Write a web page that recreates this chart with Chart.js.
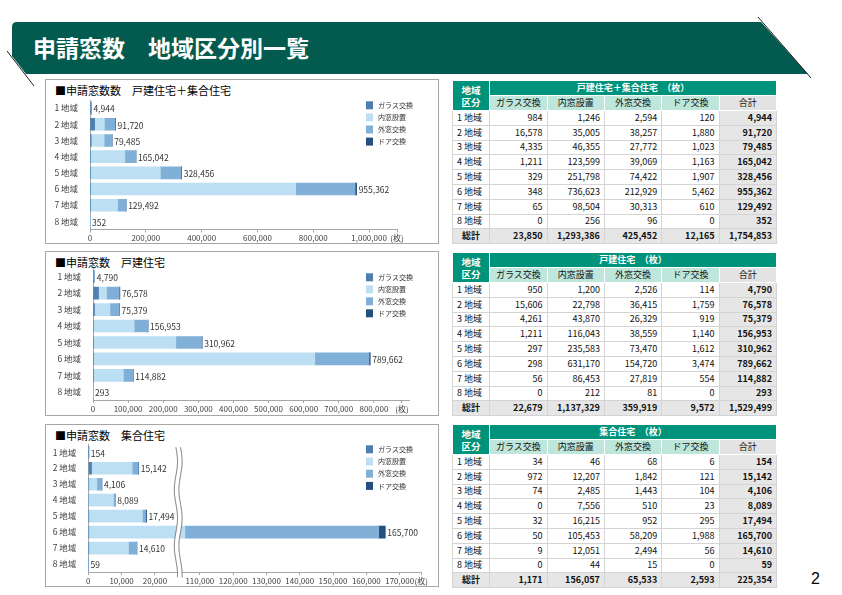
<!DOCTYPE html>
<html lang="ja">
<head>
<meta charset="utf-8">
<title>申請窓数 地域区分別一覧</title>
<script src="https://cdn.jsdelivr.net/npm/chart.js@4.4.1/dist/chart.umd.min.js"></script>
<style>
  body { margin: 0; width: 842px; height: 595px; position: relative; overflow: hidden; background: #fff; font-family: 'Noto Sans CJK JP', sans-serif; }
  .page-title { position: absolute; left: 33px; top: 33px; color: #fff; font-size: 23px; font-weight: bold; line-height: 28px; white-space: nowrap; }
  .box { position: absolute; left: 45px; width: 392px; border: 1px solid #a6a6a6; }
  .ctitle { position: absolute; left: 9px; top: 3px; font-size: 11px; line-height: 14px; color: #000; white-space: nowrap; }
  .cwrap { position: absolute; left: 0; top: 0; width: 392px; }
  .page-no { position: absolute; left: 811px; top: 571px; font-family: 'Liberation Sans', sans-serif; font-size: 16px; line-height: 16px; color: #000; }

  table.tbl { position: absolute; left: 452px; width: 325px; border-collapse: collapse; table-layout: fixed; border: 1.5px solid #333; font-size: 9px; color: #111; }
  table.tbl td, table.tbl th { border: 1px solid #d4d4d4; padding: 0 4px; white-space: nowrap; overflow: hidden; line-height: 10px; font-weight: normal; }
  table.tbl tr.h1, table.tbl tr.h2 { height: 15px; }
  table.tbl tr.row { height: 14.8px; }
  table.tbl th.hd { background: #00937c; color: #fff; font-weight: bold; border-color: #fff; text-align: center; }
  table.tbl th.corner { font-size: 9.5px; line-height: 12px; }
  table.tbl th.sub { background: #bfe6da; border-color: #fff; text-align: center; }
  table.tbl th.subsum { background: #e3e3e3; border-color: #fff; text-align: center; }
  table.tbl td.lab { text-align: left; }
  table.tbl td.num { text-align: right; }
  table.tbl td.sum { background: #e6e6e6; font-weight: bold; text-align: right; }
  table.tbl tr.total td { background: #e6e6e6; font-weight: bold; }
</style>
</head>
<body>

<svg style="position:absolute;left:0;top:0" width="842" height="100">
  <path d="M12,56 L12,27 Q12,22 17,22 L761,22 L808,74 L26,74 Z" fill="#035a4e"/>
  <line x1="7" y1="51" x2="34" y2="86" stroke="#222" stroke-width="1"/>
  <line x1="758" y1="17" x2="811" y2="78" stroke="#222" stroke-width="1"/>
</svg>
<div class="page-title">申請窓数　地域区分別一覧</div>

<div class="box" style="top:79px;height:163px">
  <div class="ctitle">■申請窓数数　戸建住宅＋集合住宅</div>
  <div class="cwrap" style="height:163px"><canvas id="chartAll"></canvas></div>
</div>
<div class="box" style="top:251px;height:163px">
  <div class="ctitle">■申請窓数　戸建住宅</div>
  <div class="cwrap" style="height:163px"><canvas id="chartHouse"></canvas></div>
</div>
<div class="box" style="top:424px;height:161px">
  <div class="ctitle">■申請窓数　集合住宅</div>
  <div class="cwrap" style="height:161px"><canvas id="chartApt"></canvas></div>
</div>

<table class="tbl" id="tblAll" style="top:80px"></table>
<table class="tbl" id="tblHouse" style="top:252px"></table>
<table class="tbl" id="tblApt" style="top:424px"></table>

<div class="page-no">2</div>

<script>
// Categories and series
const regions = ['1 地域', '2 地域', '3 地域', '4 地域', '5 地域', '6 地域', '7 地域', '8 地域'];
const seriesNames = ['ガラス交換', '内窓設置', '外窓交換', 'ドア交換'];
const seriesColors = ['#4f7fb1', '#bddff3', '#80afd8', '#24507f'];

// 戸建住宅＋集合住宅
const glassAll = [984, 16578, 4335, 1211, 329, 348, 65, 0];
const innerAll = [1246, 35005, 46355, 123599, 251798, 736623, 98504, 256];
const outerAll = [2594, 38257, 27772, 39069, 74422, 212929, 30313, 96];
const doorAll = [120, 1880, 1023, 1163, 1907, 5462, 610, 0];

// 戸建住宅
const glassHouse = [950, 15606, 4261, 1211, 297, 298, 56, 0];
const innerHouse = [1200, 22798, 43870, 116043, 235583, 631170, 86453, 212];
const outerHouse = [2526, 36415, 26329, 38559, 73470, 154720, 27819, 81];
const doorHouse = [114, 1759, 919, 1140, 1612, 3474, 554, 0];

// 集合住宅
const glassApt = [34, 972, 74, 0, 32, 50, 9, 0];
const innerApt = [46, 12207, 2485, 7556, 16215, 105453, 12051, 44];
const outerApt = [68, 1842, 1443, 510, 952, 58209, 2494, 15];
const doorApt = [6, 121, 104, 23, 295, 1988, 56, 0];

// x axis tick labels
const ticksAll = [0, 200000, 400000, 600000, 800000, 1000000];
const ticksHouse = [0, 100000, 200000, 300000, 400000, 500000, 600000, 700000, 800000];
const ticksApt = [0, 10000, 20000, 110000, 120000, 130000, 140000, 150000, 160000, 170000];
const unitLabel = '(枚)';

// 集合住宅 chart has a broken axis (approx. 27,000 - 103,500 omitted)
const aptOffset = 76500;
const aptBreak = 27000;
function aptDisplay(v) {
  return v > 60000 ? v - aptOffset : v;
}

const fmt = v => v.toLocaleString('en-US');

function rowTotals(series) {
  return regions.map((_, r) => series.reduce((s, d) => s + d[r], 0));
}

function buildChart(id, series, o) {
  const totals = rowTotals(series);
  const map = o.toDisplay || (v => v);

  const datasets = series.map((vals, i) => ({
    label: seriesNames[i],
    data: vals.map((v, r) => {
      const before = series.slice(0, i).reduce((s, d) => s + d[r], 0);
      return [map(before), map(before + v)];
    }),
    backgroundColor: seriesColors[i],
    borderWidth: 0,
    barThickness: 12,
    grouped: false
  }));

  // total label at the end of each bar
  const totalLabels = {
    id: 'totalLabels',
    afterDatasetsDraw(chart) {
      const { ctx, scales: { x, y } } = chart;
      ctx.save();
      ctx.font = '8.5px "Noto Sans CJK JP"';
      ctx.fillStyle = '#333';
      ctx.textBaseline = 'middle';
      totals.forEach((t, r) => {
        ctx.fillText(fmt(t), x.getPixelForValue(map(t)) + 2, y.getPixelForValue(r) + 1);
      });
      ctx.restore();
    }
  };

  // legend on the right side
  const sideLegend = {
    id: 'sideLegend',
    afterDraw(chart) {
      const ctx = chart.ctx;
      ctx.save();
      ctx.font = '7px "Noto Sans CJK JP"';
      ctx.textBaseline = 'middle';
      seriesNames.forEach((name, i) => {
        const cy = o.legendY + i * o.legendGap;
        ctx.fillStyle = seriesColors[i];
        ctx.fillRect(o.legendX, cy - 4, 7, 8);
        ctx.fillStyle = '#333';
        ctx.fillText(name, o.legendX + 12, cy);
      });
      ctx.restore();
    }
  };

  // wavy break marks
  const breakMark = {
    id: 'breakMark',
    afterDatasetsDraw(chart) {
      if (o.breakAt === undefined) return;
      const { ctx, chartArea, scales: { x } } = chart;
      const cx = x.getPixelForValue(o.breakAt);
      const top = chartArea.top + 3;
      const bottom = chartArea.bottom + 6;
      const wave = (y, off) => cx + off + 1.6 * Math.sin((y - top) / 9);
      ctx.save();
      ctx.beginPath();
      for (let y = top; y <= bottom; y++) ctx.lineTo(wave(y, -2.3), y);
      for (let y = bottom; y >= top; y--) ctx.lineTo(wave(y, 2.3), y);
      ctx.closePath();
      ctx.fillStyle = '#fff';
      ctx.fill();
      ctx.strokeStyle = '#555';
      ctx.lineWidth = 0.8;
      [-2.3, 2.3].forEach(off => {
        ctx.beginPath();
        for (let y = top; y <= bottom; y++) ctx.lineTo(wave(y, off), y);
        ctx.stroke();
      });
      ctx.restore();
    }
  };

  return new Chart(document.getElementById(id), {
    type: 'bar',
    data: { labels: regions, datasets },
    options: {
      indexAxis: 'y',
      responsive: true,
      maintainAspectRatio: false,
      animation: false,
      layout: { padding: { top: o.top, right: o.right, left: 0, bottom: 0 } },
      plugins: {
        legend: { display: false },
        tooltip: { enabled: false }
      },
      scales: {
        x: {
          type: 'linear',
          min: 0,
          max: o.max,
          afterBuildTicks: scale => {
            scale.ticks = o.ticks.map(v => ({ value: map(v) })).concat([{ value: o.unitAt }]);
          },
          afterFit: scale => { scale.height = o.xh; },
          ticks: {
            autoSkip: false,
            maxRotation: 0,
            padding: 1,
            color: '#404040',
            font: { size: 8, family: "'Noto Sans CJK JP'" },
            callback: (value, index) => index === o.ticks.length ? unitLabel : fmt(o.ticks[index])
          },
          grid: { drawOnChartArea: false, tickLength: 3, color: '#a6a6a6' },
          border: { color: '#a6a6a6' }
        },
        y: {
          type: 'category',
          afterFit: scale => { scale.width = o.left; },
          ticks: {
            padding: 4,
            color: '#404040',
            font: { size: 8.5, family: "'Noto Sans CJK JP'" }
          },
          grid: { display: false },
          border: { color: '#a6a6a6' }
        }
      }
    },
    plugins: [totalLabels, breakMark, sideLegend]
  });
}

function buildTable(id, heading, series) {
  const totals = rowTotals(series);
  const colSums = series.map(s => s.reduce((a, b) => a + b, 0));
  let html = '<colgroup><col style="width:37px">' + '<col style="width:57px">'.repeat(5) + '</colgroup>';
  html += `<tr class="h1"><th class="hd corner" rowspan="2">地域<br>区分</th><th class="hd" colspan="5">${heading}　（枚）</th></tr>`;
  html += '<tr class="h2">' + seriesNames.map(n => `<th class="sub">${n}</th>`).join('') + '<th class="subsum">合計</th></tr>';
  regions.forEach((reg, r) => {
    html += `<tr class="row"><td class="lab">${reg}</td>` +
      series.map(s => `<td class="num">${fmt(s[r])}</td>`).join('') +
      `<td class="sum">${fmt(totals[r])}</td></tr>`;
  });
  html += '<tr class="row total"><td class="lab" style="text-align:center">総計</td>' +
    colSums.map(v => `<td class="num">${fmt(v)}</td>`).join('') +
    `<td class="sum">${fmt(colSums.reduce((a, b) => a + b, 0))}</td></tr>`;
  document.getElementById(id).innerHTML = html;
}

document.addEventListener('DOMContentLoaded', function() {
  buildChart('chartAll', [glassAll, innerAll, outerAll, doorAll], {
    max: 1100000, unitAt: 1100000, ticks: ticksAll,
    left: 44, right: 41, top: 20, xh: 13.5,
    legendX: 320, legendY: 25.3, legendGap: 12.1
  });
  buildChart('chartHouse', [glassHouse, innerHouse, outerHouse, doorHouse], {
    max: 900000, unitAt: 880000, ticks: ticksHouse,
    left: 47, right: 29, top: 16.5, xh: 15,
    legendX: 320, legendY: 25.3, legendGap: 12
  });
  buildChart('chartApt', [glassApt, innerApt, outerApt, doorApt], {
    max: 100000, unitAt: 100000, ticks: ticksApt, toDisplay: aptDisplay, breakAt: aptBreak,
    left: 42.3, right: 16.7, top: 19.3, xh: 14,
    legendX: 320, legendY: 24.3, legendGap: 12.2
  });

  buildTable('tblAll', '戸建住宅＋集合住宅', [glassAll, innerAll, outerAll, doorAll]);
  buildTable('tblHouse', '戸建住宅', [glassHouse, innerHouse, outerHouse, doorHouse]);
  buildTable('tblApt', '集合住宅', [glassApt, innerApt, outerApt, doorApt]);
});
</script>
</body>
</html>
